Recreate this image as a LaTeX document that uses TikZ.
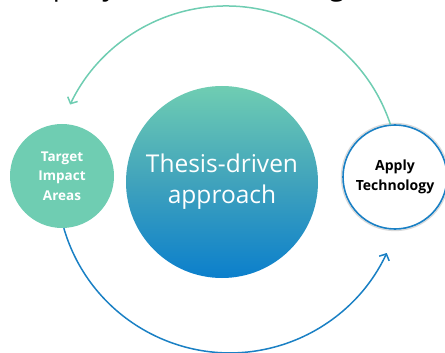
\documentclass[tikz,border=0pt]{standalone}
\usepackage{fontspec}
\setmainfont{Open Sans}
\usetikzlibrary{arrows.meta}
\definecolor{teal1}{HTML}{6FCDB2}
\definecolor{blue1}{HTML}{1A80C4}
\definecolor{blue2}{HTML}{0B7FCC}
\tikzset{
  hubcircle/.style={circle, minimum size=192pt, inner sep=0pt, top color=teal1, bottom color=blue2, middle color=teal1!45!blue1, text=white, align=center, font=\fontsize{24.5}{31}\selectfont},
  sidecircle/.style={circle, minimum size=104pt, inner sep=0pt, align=center, font=\bfseries\fontsize{13.5}{19.5}\selectfont},
  tealarrow/.style={draw=teal1, line width=1.5pt, -{Straight Barb[length=5pt,width=11pt,line width=1.5pt]}},
  bluearrow/.style={draw=blue1, line width=1.5pt, -{Straight Barb[length=5pt,width=11pt,line width=1.5pt]}},
  toptext/.style={font=\fontsize{28}{32}\selectfont, inner sep=0pt}
}
\begin{document}
\begin{tikzpicture}[x=1pt,y=-1pt]
\useasboundingbox (0,0) rectangle (445,353);
\begin{scope}
\clip (0,0) rectangle (445,353);
\node[toptext, anchor=base east] (frag1) at (117,-4.5) {company};
\node[toptext, anchor=base east] (frag2) at (345,-4.5) {building};
\end{scope}
\node[hubcircle] (hub) at (222,182) {Thesis-driven\\approach};
\node[sidecircle, fill=teal1, text=white] (target) at (62,176) {Target\\Impact\\Areas};
\draw[black!15, line width=1.2pt] (395,177) circle[radius=53.6];
\node[sidecircle, fill=white, draw=blue1, line width=1.6pt, text=black, font=\bfseries\fontsize{14}{20}\selectfont] (tech) at (395,177) {Apply\\Technology};
\draw[tealarrow] (tech.95) arc[start angle=-18.4, end angle=-154.5, radius=173];
\draw[bluearrow] (target.-88) arc[start angle=163.8, end angle=25, radius=173];
\end{tikzpicture}
\end{document}
